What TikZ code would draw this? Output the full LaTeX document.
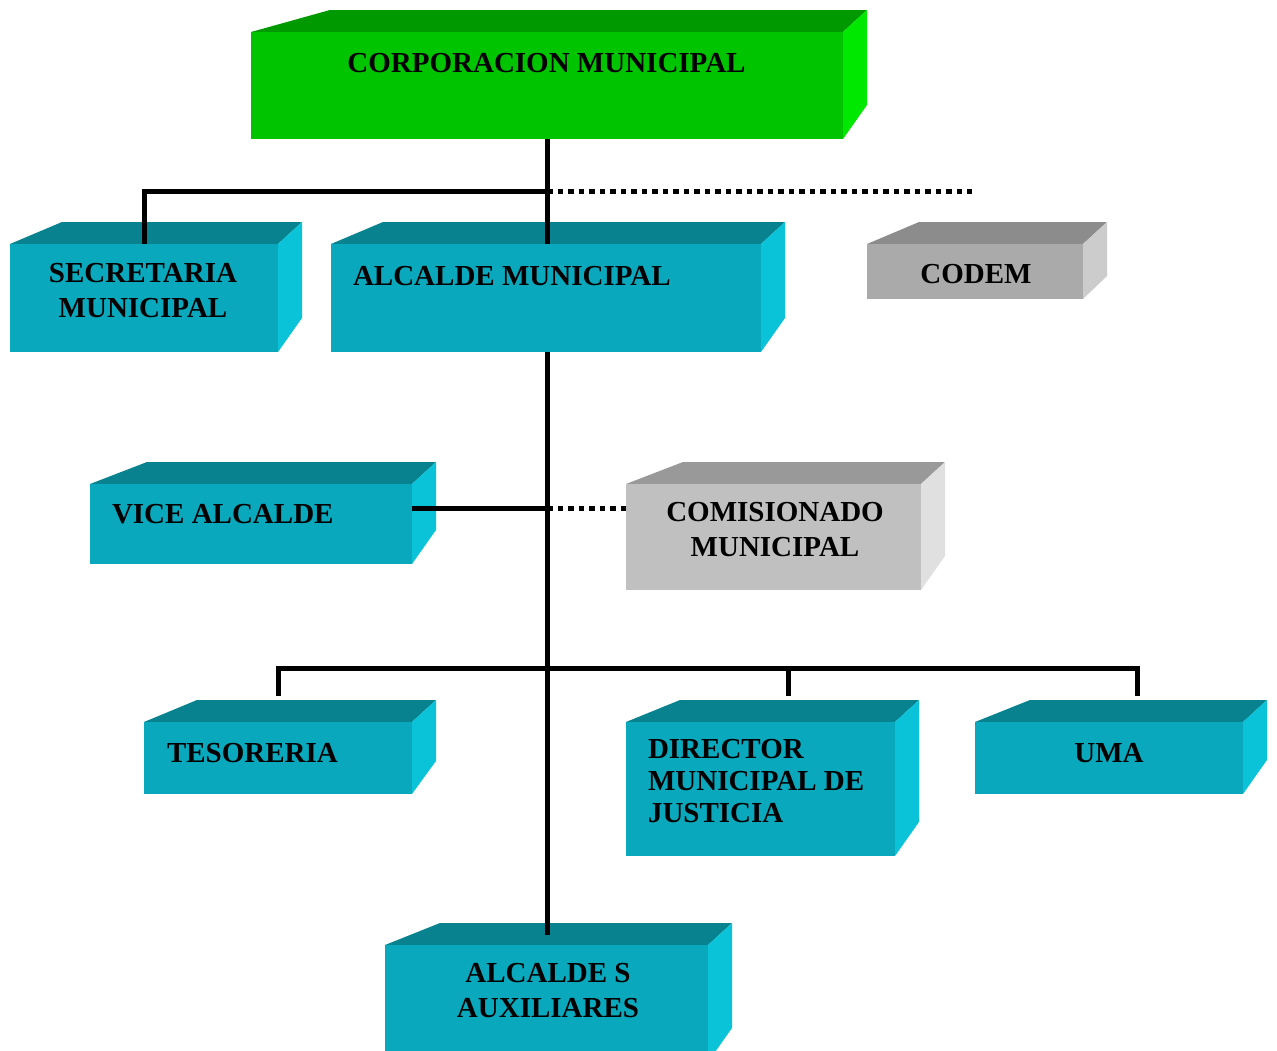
\documentclass[tikz,border=0pt]{standalone}
\usepackage{fontspec}
\setmainfont{Liberation Serif}
\usetikzlibrary{calc}
\definecolor{gtop}{HTML}{009A00}
\definecolor{gfront}{HTML}{00C400}
\definecolor{gside}{HTML}{00E800}
\definecolor{ttop}{HTML}{08828E}
\definecolor{tfront}{HTML}{0AA8BC}
\definecolor{tside}{HTML}{0AC3D8}
\definecolor{ctop}{HTML}{8C8C8C}
\definecolor{cfront}{HTML}{AAAAAA}
\definecolor{cside}{HTML}{CCCCCC}
\definecolor{mtop}{HTML}{999999}
\definecolor{mfront}{HTML}{C0C0C0}
\definecolor{mside}{HTML}{E0E0E0}
% #1 name, #2 x1, #3 y1, #4 x2, #5 y2, #6 top-left offset, #7 right-face bottom rise, #8 palette
\newcommand{\ocube}[8]{%
  \fill[#8top] (#2,#3) -- (#2+#6,#3-22) -- (#4+24,#3-22) -- (#4,#3) -- cycle;
  \fill[#8side] (#4,#3) -- (#4+24,#3-22) -- (#4+24,#5-#7) -- (#4,#5) -- cycle;
  \node[facebox, fill=#8front, minimum width={(#4-#2)*1pt}, minimum height={(#5-#3)*1pt}, anchor=north west] (#1) at (#2,#3) {};
}
\tikzset{
  facebox/.style={inner sep=0pt, outer sep=0pt, draw=none},
  txt/.style={font=\fontsize{29}{35}\selectfont\bfseries, inner sep=0pt, outer sep=0pt, text=black},
  conn/.style={line width=5pt, black, line join=miter},
  dotconn/.style={line width=5pt, black, dash pattern=on 5.5pt off 5pt},
}
\begin{document}
\begin{tikzpicture}[x=1pt,y=-1pt]
\useasboundingbox (0,0) rectangle (1277,1050);
\clip (0,0) rectangle (1277,1050);
\fill[white] (0,0) rectangle (1277,1050);

% boxes
\ocube{corp}{251}{32}{843}{139}{79}{34}{g}
\ocube{sec}{10}{244}{278}{352}{52}{34}{t}
\ocube{alc}{331}{244}{761}{352}{52}{34}{t}
\ocube{codem}{867}{244}{1083}{299}{52}{23}{c}
\ocube{vice}{90}{484}{412}{564}{57}{34}{t}
\ocube{comis}{626}{484}{921}{590}{57}{34}{m}
\ocube{tes}{144}{722}{412}{794}{53}{33}{t}
\ocube{dir}{626}{722}{895}{856}{54}{34}{t}
\ocube{uma}{975}{722}{1243}{794}{55}{34}{t}
\ocube{aux}{385}{945}{708}{1062}{55}{34}{t}

% texts
\node[txt, anchor=base] (corp-t) at (546.5,72) {CORPORACION MUNICIPAL};
\node[txt, align=center, anchor=center] (sec-t) at (143,291) {SECRETARIA\\MUNICIPAL};
\node[txt, anchor=base west] (alc-t) at (353,285) {ALCALDE MUNICIPAL};
\node[txt, anchor=base] (codem-t) at (976,283) {CODEM};
\node[txt, anchor=base west] (vice-t) at (112,523) {VICE ALCALDE};
\node[txt, align=center, anchor=center] (comis-t) at (775,530) {COMISIONADO\\MUNICIPAL};
\node[txt, anchor=base west] (tes-t) at (167,762) {TESORERIA};
\node[txt, font=\fontsize{29}{32}\selectfont\bfseries, align=left, anchor=north west] (dir-t) at (648,739) {DIRECTOR\\MUNICIPAL DE\\JUSTICIA};
\node[txt, anchor=base] (uma-t) at (1109,762) {UMA};
\node[txt, align=center, anchor=center] (aux-t) at (548,991) {ALCALDE S\\AUXILIARES};

% junctions
\coordinate (j1) at (corp.south |- 0,191);
\coordinate (e1) at (972,191);
\coordinate (j2) at (corp.south |- 0,508);
\coordinate (j3) at (corp.south |- 0,668);
\coordinate (d1) at ($(tes.north)+(0,-26)$);
\coordinate (d2) at ($(dir.north)+(27.5,-26)$);
\coordinate (d3) at ($(uma.north)+(28,-26)$);

% connectors
\draw[conn] (corp.south) -- (corp.south |- alc.north);
\draw[conn] (sec.north) -- (sec.north |- j1) -- (j1);
\draw[dotconn] (j1) -- (e1);
\draw[conn] (corp.south |- alc.south) -- (corp.south |- 0,935);
\draw[conn] (vice.east |- j2) -- (j2);
\draw[dotconn] (j2) -- (comis.west |- j2);
\draw[conn] (d1) -- (d1 |- j3) -- (d3 |- j3) -- (d3);
\draw[conn] (d2) -- (d2 |- j3);
\end{tikzpicture}
\end{document}
